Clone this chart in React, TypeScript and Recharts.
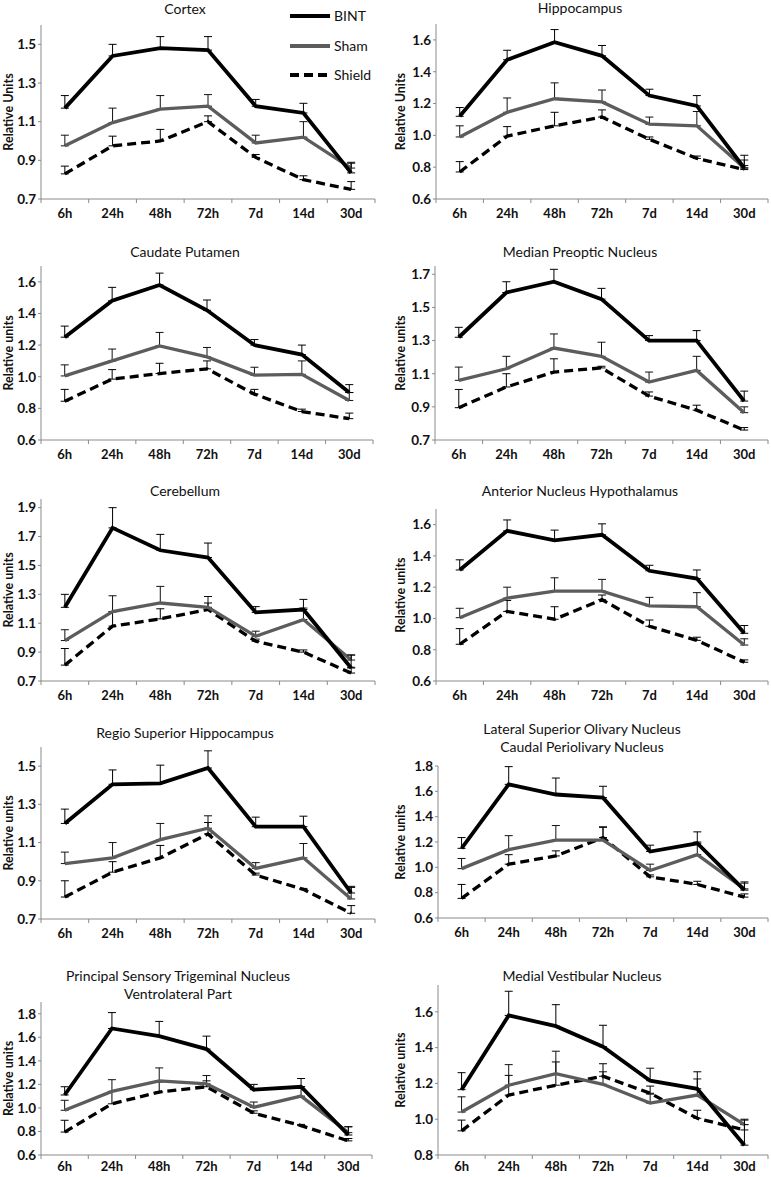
import React from 'react';
import { LineChart, Line, XAxis, YAxis, ErrorBar } from 'recharts';

const TIMEPOINTS = ['6h', '24h', '48h', '72h', '7d', '14d', '30d'];
const SERIES_NAMES = ['BINT', 'Sham', 'Shield'];

// Cortex
const CORTEX_BINT = [1.17, 1.44, 1.48, 1.47, 1.18, 1.145, 0.835];
const CORTEX_BINT_ERR = [0.065, 0.06, 0.06, 0.07, 0.035, 0.05, 0.05];
const CORTEX_SHAM = [0.975, 1.095, 1.165, 1.18, 0.99, 1.02, 0.86];
const CORTEX_SHAM_ERR = [0.055, 0.075, 0.07, 0.06, 0.04, 0.08, 0.03];
const CORTEX_SHIELD = [0.83, 0.975, 1.0, 1.1, 0.915, 0.8, 0.75];
const CORTEX_SHIELD_ERR = [0.04, 0.05, 0.06, 0.03, 0.015, 0.02, 0.04];
const CORTEX_TICKS = [0.7, 0.9, 1.1, 1.3, 1.5];

// Hippocampus
const HIPPO_BINT = [1.12, 1.475, 1.585, 1.5, 1.25, 1.185, 0.795];
const HIPPO_BINT_ERR = [0.055, 0.06, 0.08, 0.065, 0.04, 0.065, 0.08];
const HIPPO_SHAM = [0.99, 1.145, 1.23, 1.21, 1.07, 1.06, 0.795];
const HIPPO_SHAM_ERR = [0.07, 0.09, 0.1, 0.075, 0.045, 0.09, 0.05];
const HIPPO_SHIELD = [0.77, 0.995, 1.06, 1.115, 0.975, 0.855, 0.785];
const HIPPO_SHIELD_ERR = [0.065, 0.06, 0.085, 0.045, 0.015, 0.015, 0.025];
const HIPPO_TICKS = [0.6, 0.8, 1.0, 1.2, 1.4, 1.6];

// Caudate Putamen
const CAUDATE_BINT = [1.25, 1.48, 1.58, 1.42, 1.2, 1.14, 0.9];
const CAUDATE_BINT_ERR = [0.07, 0.085, 0.075, 0.065, 0.035, 0.06, 0.05];
const CAUDATE_SHAM = [1.005, 1.1, 1.195, 1.125, 1.01, 1.015, 0.85];
const CAUDATE_SHAM_ERR = [0.07, 0.075, 0.085, 0.06, 0.05, 0.085, 0.05];
const CAUDATE_SHIELD = [0.845, 0.985, 1.02, 1.05, 0.89, 0.78, 0.735];
const CAUDATE_SHIELD_ERR = [0.075, 0.06, 0.065, 0.05, 0.03, 0.015, 0.035];
const CAUDATE_TICKS = [0.6, 0.8, 1.0, 1.2, 1.4, 1.6];

// Median Preoptic Nucleus
const PREOPTIC_BINT = [1.32, 1.59, 1.655, 1.55, 1.3, 1.3, 0.935];
const PREOPTIC_BINT_ERR = [0.06, 0.065, 0.075, 0.065, 0.03, 0.06, 0.06];
const PREOPTIC_SHAM = [1.06, 1.13, 1.255, 1.205, 1.05, 1.12, 0.865];
const PREOPTIC_SHAM_ERR = [0.08, 0.075, 0.085, 0.085, 0.06, 0.085, 0.035];
const PREOPTIC_SHIELD = [0.895, 1.02, 1.11, 1.135, 0.965, 0.88, 0.76];
const PREOPTIC_SHIELD_ERR = [0.11, 0.08, 0.08, 0.01, 0.025, 0.03, 0.015];
const PREOPTIC_TICKS = [0.7, 0.9, 1.1, 1.3, 1.5, 1.7];

// Cerebellum
const CEREBELLUM_BINT = [1.21, 1.76, 1.605, 1.555, 1.175, 1.195, 0.79];
const CEREBELLUM_BINT_ERR = [0.09, 0.14, 0.11, 0.1, 0.04, 0.07, 0.09];
const CEREBELLUM_SHAM = [0.98, 1.18, 1.24, 1.21, 1.01, 1.125, 0.845];
const CEREBELLUM_SHAM_ERR = [0.075, 0.11, 0.115, 0.075, 0.035, 0.08, 0.035];
const CEREBELLUM_SHIELD = [0.81, 1.08, 1.13, 1.195, 0.975, 0.9, 0.755];
const CEREBELLUM_SHIELD_ERR = [0.115, 0.1, 0.07, 0.045, 0.015, 0.015, 0.04];
const CEREBELLUM_TICKS = [0.7, 0.9, 1.1, 1.3, 1.5, 1.7, 1.9];

// Anterior Nucleus Hypothalamus
const ANTERIOR_BINT = [1.31, 1.56, 1.5, 1.535, 1.305, 1.255, 0.905];
const ANTERIOR_BINT_ERR = [0.065, 0.07, 0.065, 0.07, 0.035, 0.055, 0.05];
const ANTERIOR_SHAM = [1.005, 1.13, 1.175, 1.175, 1.08, 1.075, 0.83];
const ANTERIOR_SHAM_ERR = [0.06, 0.07, 0.085, 0.075, 0.055, 0.09, 0.04];
const ANTERIOR_SHIELD = [0.835, 1.045, 0.995, 1.12, 0.95, 0.86, 0.72];
const ANTERIOR_SHIELD_ERR = [0.1, 0.07, 0.08, 0.03, 0.04, 0.02, 0.015];
const ANTERIOR_TICKS = [0.6, 0.8, 1.0, 1.2, 1.4, 1.6];

// Regio Superior Hippocampus
const REGIO_BINT = [1.2, 1.405, 1.41, 1.49, 1.183, 1.183, 0.836];
const REGIO_BINT_ERR = [0.075, 0.075, 0.095, 0.09, 0.05, 0.055, 0.035];
const REGIO_SHAM = [0.99, 1.02, 1.115, 1.175, 0.965, 1.02, 0.805];
const REGIO_SHAM_ERR = [0.06, 0.08, 0.085, 0.065, 0.03, 0.075, 0.06];
const REGIO_SHIELD = [0.815, 0.945, 1.02, 1.145, 0.93, 0.855, 0.73];
const REGIO_SHIELD_ERR = [0.085, 0.055, 0.065, 0.06, 0.01, 0.005, 0.04];
const REGIO_TICKS = [0.7, 0.9, 1.1, 1.3, 1.5];

// Lateral Superior Olivary Nucleus / Caudal Periolivary Nucleus
const OLIVARY_BINT = [1.15, 1.655, 1.575, 1.55, 1.125, 1.19, 0.82];
const OLIVARY_BINT_ERR = [0.085, 0.14, 0.13, 0.09, 0.05, 0.09, 0.065];
const OLIVARY_SHAM = [0.99, 1.14, 1.215, 1.215, 0.975, 1.1, 0.83];
const OLIVARY_SHAM_ERR = [0.08, 0.11, 0.115, 0.1, 0.05, 0.1, 0.045];
const OLIVARY_SHIELD = [0.755, 1.025, 1.09, 1.235, 0.925, 0.865, 0.765];
const OLIVARY_SHIELD_ERR = [0.11, 0.075, 0.04, 0.085, 0.015, 0.025, 0.025];
const OLIVARY_TICKS = [0.6, 0.8, 1.0, 1.2, 1.4, 1.6, 1.8];

// Principal Sensory Trigeminal Nucleus Ventrolateral Part
const TRIGEMINAL_BINT = [1.11, 1.675, 1.61, 1.5, 1.155, 1.18, 0.77];
const TRIGEMINAL_BINT_ERR = [0.07, 0.135, 0.125, 0.11, 0.045, 0.07, 0.07];
const TRIGEMINAL_SHAM = [0.98, 1.14, 1.23, 1.205, 1.005, 1.1, 0.79];
const TRIGEMINAL_SHAM_ERR = [0.085, 0.1, 0.11, 0.07, 0.045, 0.08, 0.05];
const TRIGEMINAL_SHIELD = [0.795, 1.035, 1.135, 1.18, 0.955, 0.85, 0.72];
const TRIGEMINAL_SHIELD_ERR = [0.1, 0.105, 0.085, 0.05, 0.02, 0.01, 0.02];
const TRIGEMINAL_TICKS = [0.6, 0.8, 1.0, 1.2, 1.4, 1.6, 1.8];

// Medial Vestibular Nucleus
const VESTIBULAR_BINT = [1.165, 1.58, 1.52, 1.405, 1.215, 1.17, 0.855];
const VESTIBULAR_BINT_ERR = [0.095, 0.135, 0.12, 0.12, 0.07, 0.095, 0.14];
const VESTIBULAR_SHAM = [1.04, 1.19, 1.255, 1.195, 1.09, 1.135, 0.97];
const VESTIBULAR_SHAM_ERR = [0.085, 0.115, 0.125, 0.07, 0.05, 0.09, 0.03];
const VESTIBULAR_SHIELD = [0.935, 1.135, 1.19, 1.24, 1.145, 1.005, 0.94];
const VESTIBULAR_SHIELD_ERR = [0.06, 0.11, 0.13, 0.07, 0.04, 0.045, 0.03];
const VESTIBULAR_TICKS = [0.8, 1.0, 1.2, 1.4, 1.6];

const FONT = 'Lato, "Open Sans", sans-serif';
const SHAM_COLOR = '#5c5c5c';
const AXIS_COLOR = '#8a8a8a';

type Panel = {
  title: string[];
  yLabel: string;
  bint: number[]; bintErr: number[];
  sham: number[]; shamErr: number[];
  shield: number[]; shieldErr: number[];
  ticks: number[];
  domain: [number, number];
  col: 0 | 1;
  x0: number; x1: number; yTop: number; yBot: number;
  titleY: number; titleX: number;
  labelDy: number;
};

const PANELS: Panel[] = [
  { title: ['Cortex'], yLabel: 'Relative Units', bint: CORTEX_BINT, bintErr: CORTEX_BINT_ERR, sham: CORTEX_SHAM, shamErr: CORTEX_SHAM_ERR, shield: CORTEX_SHIELD, shieldErr: CORTEX_SHIELD_ERR, ticks: CORTEX_TICKS, domain: [0.7, 1.6], col: 0, x0: 41, x1: 375, yTop: 25, yBot: 199, titleY: 14, titleX: 185, labelDy: 19 },
  { title: ['Hippocampus'], yLabel: 'Relative Units', bint: HIPPO_BINT, bintErr: HIPPO_BINT_ERR, sham: HIPPO_SHAM, shamErr: HIPPO_SHAM_ERR, shield: HIPPO_SHIELD, shieldErr: HIPPO_SHIELD_ERR, ticks: HIPPO_TICKS, domain: [0.6, 1.7], col: 1, x0: 436, x1: 768, yTop: 24, yBot: 199, titleY: 13, titleX: 580, labelDy: 19 },
  { title: ['Caudate Putamen'], yLabel: 'Relative units', bint: CAUDATE_BINT, bintErr: CAUDATE_BINT_ERR, sham: CAUDATE_SHAM, shamErr: CAUDATE_SHAM_ERR, shield: CAUDATE_SHIELD, shieldErr: CAUDATE_SHIELD_ERR, ticks: CAUDATE_TICKS, domain: [0.6, 1.7], col: 0, x0: 41, x1: 373, yTop: 266, yBot: 440, titleY: 257, titleX: 185, labelDy: 19 },
  { title: ['Median Preoptic Nucleus'], yLabel: 'Relative units', bint: PREOPTIC_BINT, bintErr: PREOPTIC_BINT_ERR, sham: PREOPTIC_SHAM, shamErr: PREOPTIC_SHAM_ERR, shield: PREOPTIC_SHIELD, shieldErr: PREOPTIC_SHIELD_ERR, ticks: PREOPTIC_TICKS, domain: [0.7, 1.75], col: 1, x0: 435, x1: 768, yTop: 266, yBot: 440, titleY: 257, titleX: 580, labelDy: 19 },
  { title: ['Cerebellum'], yLabel: 'Relative units', bint: CEREBELLUM_BINT, bintErr: CEREBELLUM_BINT_ERR, sham: CEREBELLUM_SHAM, shamErr: CEREBELLUM_SHAM_ERR, shield: CEREBELLUM_SHIELD, shieldErr: CEREBELLUM_SHIELD_ERR, ticks: CEREBELLUM_TICKS, domain: [0.7, 1.96], col: 0, x0: 41, x1: 375, yTop: 499, yBot: 681, titleY: 496, titleX: 185, labelDy: 19 },
  { title: ['Anterior Nucleus Hypothalamus'], yLabel: 'Relative units', bint: ANTERIOR_BINT, bintErr: ANTERIOR_BINT_ERR, sham: ANTERIOR_SHAM, shamErr: ANTERIOR_SHAM_ERR, shield: ANTERIOR_SHIELD, shieldErr: ANTERIOR_SHIELD_ERR, ticks: ANTERIOR_TICKS, domain: [0.6, 1.7], col: 1, x0: 436, x1: 768, yTop: 509, yBot: 681, titleY: 496, titleX: 580, labelDy: 19 },
  { title: ['Regio Superior Hippocampus'], yLabel: 'Relative units', bint: REGIO_BINT, bintErr: REGIO_BINT_ERR, sham: REGIO_SHAM, shamErr: REGIO_SHAM_ERR, shield: REGIO_SHIELD, shieldErr: REGIO_SHIELD_ERR, ticks: REGIO_TICKS, domain: [0.7, 1.6], col: 0, x0: 41, x1: 375, yTop: 747, yBot: 919, titleY: 738, titleX: 185, labelDy: 19 },
  { title: ['Lateral Superior Olivary Nucleus', 'Caudal Periolivary Nucleus'], yLabel: 'Relative units', bint: OLIVARY_BINT, bintErr: OLIVARY_BINT_ERR, sham: OLIVARY_SHAM, shamErr: OLIVARY_SHAM_ERR, shield: OLIVARY_SHIELD, shieldErr: OLIVARY_SHIELD_ERR, ticks: OLIVARY_TICKS, domain: [0.6, 1.8], col: 1, x0: 438, x1: 768, yTop: 766, yBot: 918, titleY: 734, titleX: 582, labelDy: 19 },
  { title: ['Principal Sensory Trigeminal Nucleus', 'Ventrolateral Part'], yLabel: 'Relative units', bint: TRIGEMINAL_BINT, bintErr: TRIGEMINAL_BINT_ERR, sham: TRIGEMINAL_SHAM, shamErr: TRIGEMINAL_SHAM_ERR, shield: TRIGEMINAL_SHIELD, shieldErr: TRIGEMINAL_SHIELD_ERR, ticks: TRIGEMINAL_TICKS, domain: [0.6, 1.9], col: 0, x0: 41, x1: 372, yTop: 1002, yBot: 1155, titleY: 981, titleX: 178, labelDy: 16 },
  { title: ['Medial Vestibular Nucleus'], yLabel: 'Relative units', bint: VESTIBULAR_BINT, bintErr: VESTIBULAR_BINT_ERR, sham: VESTIBULAR_SHAM, shamErr: VESTIBULAR_SHAM_ERR, shield: VESTIBULAR_SHIELD, shieldErr: VESTIBULAR_SHIELD_ERR, ticks: VESTIBULAR_TICKS, domain: [0.8, 1.75], col: 1, x0: 438, x1: 768, yTop: 985, yBot: 1155, titleY: 981, titleX: 582, labelDy: 16 },
];

const Y_AXIS_W = 36;
const X_AXIS_H = 22;
const TOP_M = 12;

function makeXTick(bandW: number, labelDy: number) {
  return (props: any) => {
    const { x, y, payload, index } = props;
    const label = TIMEPOINTS[payload.value];
    return (
      <g>
        <line x1={x} y1={y} x2={x} y2={y + 4} stroke={AXIS_COLOR} strokeWidth={1} />
        {label !== undefined && index < TIMEPOINTS.length ? (
          <text x={x + bandW / 2} y={y + labelDy} textAnchor="middle" fontFamily={FONT} fontWeight={700} fontSize={13} fill="#111">
            {label}
          </text>
        ) : null}
      </g>
    );
  };
}

function PanelChart({ p }: { p: Panel }) {
  const colLeft = p.col === 0 ? 0 : 385;
  const width = p.col === 0 ? 385 : 386;
  const marginLeft = p.x0 - colLeft - Y_AXIS_W;
  const marginRight = colLeft + width - p.x1;
  const height = TOP_M + (p.yBot - p.yTop) + X_AXIS_H;
  const bandW = (p.x1 - p.x0) / TIMEPOINTS.length;
  const data = TIMEPOINTS.map((t, i) => ({
    x: i + 0.5,
    label: t,
    bint: p.bint[i],
    bintErr: [0, p.bintErr[i]],
    sham: p.sham[i],
    shamErr: [0, p.shamErr[i]],
    shield: p.shield[i],
    shieldErr: [0, p.shieldErr[i]],
  }));
  const xTicks = TIMEPOINTS.map((_, i) => i).concat([TIMEPOINTS.length]);
  return (
    <div style={{ position: 'absolute', left: colLeft, top: p.yTop - TOP_M }}>
      <LineChart width={width} height={height} data={data} margin={{ top: TOP_M, right: marginRight, bottom: 0, left: marginLeft }} style={{ overflow: 'visible' }}>
        <XAxis
          type="number"
          dataKey="x"
          domain={[0, TIMEPOINTS.length]}
          ticks={xTicks}
          interval={0}
          tickSize={0}
          tickMargin={0}
          tickLine={false}
          height={X_AXIS_H}
          axisLine={{ stroke: AXIS_COLOR, strokeWidth: 1 }}
          tick={makeXTick(bandW, p.labelDy)}
          allowDataOverflow
        />
        <YAxis
          type="number"
          domain={p.domain}
          ticks={p.ticks}
          interval={0}
          allowDataOverflow
          width={Y_AXIS_W}
          tickSize={3}
          tickMargin={2}
          tickFormatter={(v: number) => v.toFixed(1)}
          tick={{ fontFamily: FONT, fontWeight: 700, fontSize: 13.5, fill: '#111' }}
          axisLine={{ stroke: AXIS_COLOR, strokeWidth: 1 }}
          tickLine={{ stroke: AXIS_COLOR, strokeWidth: 1 }}
        />
        <Line dataKey="shield" name={SERIES_NAMES[2]} stroke="#000" strokeWidth={3.3} strokeDasharray="9 5" dot={false} isAnimationActive={false}>
          <ErrorBar dataKey="shieldErr" direction="y" width={4} stroke="#000" strokeWidth={1} isAnimationActive={false} />
        </Line>
        <Line dataKey="sham" name={SERIES_NAMES[1]} stroke={SHAM_COLOR} strokeWidth={3.3} dot={false} isAnimationActive={false}>
          <ErrorBar dataKey="shamErr" direction="y" width={4} stroke="#111" strokeWidth={1} isAnimationActive={false} />
        </Line>
        <Line dataKey="bint" name={SERIES_NAMES[0]} stroke="#000" strokeWidth={3.8} dot={false} isAnimationActive={false}>
          <ErrorBar dataKey="bintErr" direction="y" width={4} stroke="#000" strokeWidth={1} isAnimationActive={false} />
        </Line>
      </LineChart>
    </div>
  );
}

function Overlay() {
  return (
    <svg width={771} height={1177} style={{ position: 'absolute', left: 0, top: 0, pointerEvents: 'none' }}>
      {PANELS.map((p, i) => {
        const yLabelX = p.col === 0 ? 8 : 400;
        const cy = (p.yTop + p.yBot) / 2;
        return (
          <g key={i}>
            {p.title.map((line, j) => (
              <text key={j} x={p.titleX} y={p.titleY + j * 18} textAnchor="middle" fontFamily={FONT} fontSize={14} fill="#111">
                {line}
              </text>
            ))}
            <text
              x={yLabelX}
              y={cy}
              transform={`rotate(-90 ${yLabelX} ${cy})`}
              textAnchor="middle"
              dominantBaseline="central"
              fontFamily={FONT}
              fontWeight={700}
              fontSize={12.5}
              fill="#111"
            >
              {p.yLabel}
            </text>
          </g>
        );
      })}
      <g>
        <line x1={290} y1={16} x2={330} y2={16} stroke="#000" strokeWidth={4} />
        <text x={334} y={21} fontFamily={FONT} fontSize={14} fill="#111">{SERIES_NAMES[0]}</text>
        <line x1={290} y1={46} x2={330} y2={46} stroke={SHAM_COLOR} strokeWidth={4} />
        <text x={334} y={51} fontFamily={FONT} fontSize={14} fill="#111">{SERIES_NAMES[1]}</text>
        <line x1={290} y1={75} x2={330} y2={75} stroke="#000" strokeWidth={4} strokeDasharray="9 5" />
        <text x={334} y={80} fontFamily={FONT} fontSize={14} fill="#111">{SERIES_NAMES[2]}</text>
      </g>
    </svg>
  );
}

export default function App() {
  return (
    <div style={{ position: 'absolute', left: 0, top: 0, width: 771, height: 1177, background: '#fff', overflow: 'hidden' }}>
      {PANELS.map((p, i) => (
        <PanelChart key={i} p={p} />
      ))}
      <Overlay />
    </div>
  );
}
